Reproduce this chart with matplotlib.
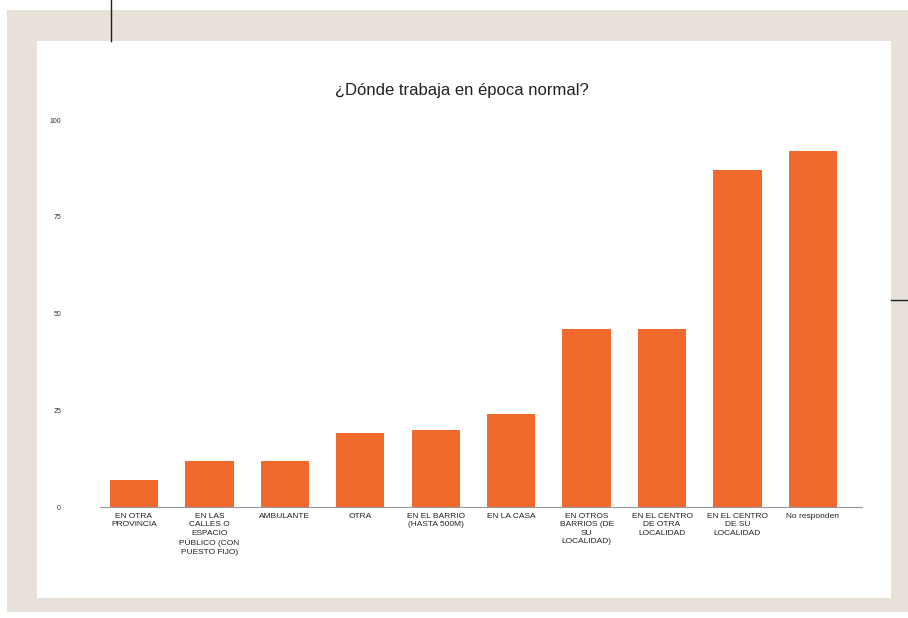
import numpy as np
import matplotlib
matplotlib.use("Agg")
import matplotlib.pyplot as plt
from matplotlib.patches import Rectangle
from matplotlib.lines import Line2D

# Chart data
categories = [
    "EN OTRA\nPROVINCIA",
    "EN LAS\nCALLES O\nESPACIO\nPÚBLICO (CON\nPUESTO FIJO)",
    "AMBULANTE",
    "OTRA",
    "EN EL BARRIO\n(HASTA 500M)",
    "EN LA CASA",
    "EN OTROS\nBARRIOS (DE\nSU\nLOCALIDAD)",
    "EN EL CENTRO\nDE OTRA\nLOCALIDAD",
    "EN EL CENTRO\nDE SU\nLOCALIDAD",
    "No responden",
]
values = [7, 12, 12, 19, 20, 24, 46, 46, 87, 92]
y_ticks = [0, 25, 50, 75, 100]

bar_color = "#ef6a2c"
beige = "#e8e1d9"

plt.rcParams["font.family"] = ["Liberation Sans", "DejaVu Sans"]

fig = plt.figure(figsize=(9.08, 6.18), dpi=100)
fig.patch.set_facecolor("white")

# page background and white card
fig.add_artist(Rectangle((0.0077, 0.0097), 0.9923, 0.9741, transform=fig.transFigure,
                         facecolor=beige, edgecolor="none", zorder=0))
fig.add_artist(Rectangle((0.0407, 0.0324), 0.9406, 0.9013, transform=fig.transFigure,
                         facecolor="white", edgecolor="none", zorder=0))
# decorative rules
fig.add_artist(Line2D([0.1222, 0.1222], [0.9337, 1.0], transform=fig.transFigure,
                      color="#222222", linewidth=1.0))
fig.add_artist(Line2D([0.9813, 1.0], [0.5146, 0.5146], transform=fig.transFigure,
                      color="#222222", linewidth=1.0))

ax = fig.add_axes([0.1101, 0.1796, 0.8392, 0.6262])
ax.set_facecolor("none")

x = np.arange(len(categories))
ax.bar(x, values, width=0.64, color=bar_color, zorder=2)

ax.set_xlim(-0.45, 9.65)
ax.set_ylim(0, 100)
ax.set_xticks(x)
ax.set_xticklabels(categories, fontsize=6, color="#222222", linespacing=1.3,
                   va="top")
ax.set_yticks(y_ticks)
ax.set_yticklabels([str(v) for v in y_ticks], fontsize=5, color="#333333")
ax.tick_params(axis="both", length=0, pad=4)
ax.tick_params(axis="y", pad=28)

for side in ["top", "right", "left"]:
    ax.spines[side].set_visible(False)
ax.spines["bottom"].set_color("#999999")
ax.spines["bottom"].set_linewidth(0.8)

fig.text(0.509, 0.853, "¿Dónde trabaja en época normal?", ha="center", va="center",
         fontsize=12, color="#222222")

fig.savefig("out.png", dpi=100, facecolor=fig.get_facecolor())
